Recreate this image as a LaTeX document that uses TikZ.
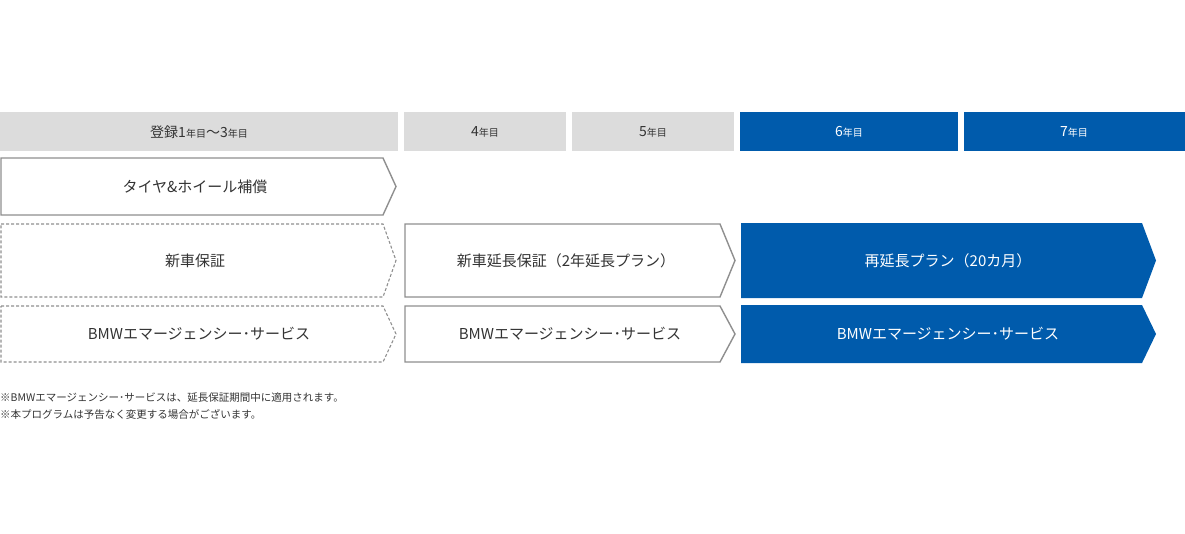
\documentclass[tikz,border=0pt]{standalone}
\usepackage{fontspec}
\setmainfont{Noto Sans CJK JP}[Scale=1]
\definecolor{bmwblue}{HTML}{005BAC}
\definecolor{hdrgrey}{HTML}{DCDCDC}
\definecolor{lgrey}{HTML}{8F8F8F}
\definecolor{txt}{HTML}{333333}
\begin{document}
\begin{tikzpicture}[x=1pt,y=-1pt,
  hdr/.style={fill=hdrgrey,draw=none},
  hdrb/.style={fill=bmwblue,draw=none},
  outl/.style={draw=lgrey,line width=1.4pt,fill=white},
  dsh/.style={draw=lgrey,line width=1.1pt,dash pattern=on 3pt off 2pt},
  blu/.style={fill=bmwblue,draw=none},
  lbl/.style={font=\fontsize{15}{18}\selectfont,text=txt},
  wl/.style={font=\fontsize{15}{18}\selectfont,text=white},
  hl/.style={font=\fontsize{14}{16}\selectfont,text=txt}]
\useasboundingbox (0,0) rectangle (1185,533);
\newcommand{\yr}{{\fontsize{10}{12}\selectfont 年目}}
% header
\fill[hdr] (0,112) rectangle (398,151);
\fill[hdr] (404,112) rectangle (566,151);
\fill[hdr] (572,112) rectangle (734,151);
\fill[hdrb] (740,112) rectangle (958,151);
\fill[hdrb] (964,112) rectangle (1185,151);
\node[hl] (h1) at (199,132) {登録1\yr～3\yr};
\node[hl] (h2) at (485,132) {4\yr};
\node[hl] (h3) at (653,132) {5\yr};
\node[hl,text=white] (h4) at (849,132) {6\yr};
\node[hl,text=white] (h5) at (1074,132) {7\yr};
% row 1
\draw[outl] (1,158) -- (383,158) -- (396,186.5) -- (383,215) -- (1,215) -- cycle;
\node[lbl] (r1) at (195,186.5) {タイヤ\&ホイール補償};
% row 2
\draw[dsh] (1,224) -- (383,224) -- (396,260.5) -- (383,297) -- (1,297) -- cycle;
\node[lbl] (r2a) at (195,260.5) {新車保証};
\draw[outl] (405,224) -- (720,224) -- (735,260.5) -- (720,297) -- (405,297) -- cycle;
\node[lbl] (r2b) at (566,260.5) {新車延長保証（2年延長プラン）};
\fill[blu] (741,223) -- (1142,223) -- (1156,260.5) -- (1142,298) -- (741,298) -- cycle;
\node[wl] (r2c) at (948,260.5) {再延長プラン（20カ月）};
% row 3
\draw[dsh] (1,306) -- (383,306) -- (396,334) -- (383,362) -- (1,362) -- cycle;
\node[lbl] (r3a) at (199,334) {BMWエマージェンシー･サービス};
\draw[outl] (405,306) -- (720,306) -- (735,334) -- (720,362) -- (405,362) -- cycle;
\node[lbl] (r3b) at (570,334) {BMWエマージェンシー･サービス};
\fill[blu] (741,305) -- (1142,305) -- (1156,334) -- (1142,363) -- (741,363) -- cycle;
\node[wl] (r3c) at (948,334) {BMWエマージェンシー･サービス};
% notes
\node[anchor=west,inner sep=0,font=\fontsize{10.5}{12}\selectfont,text=txt] (n1) at (0,398) {※BMWエマージェンシー･サービスは、延長保証期間中に適用されます。};
\node[anchor=west,inner sep=0,font=\fontsize{10.5}{12}\selectfont,text=txt] (n2) at (0,414) {※本プログラムは予告なく変更する場合がございます。};
\end{tikzpicture}
\end{document}
